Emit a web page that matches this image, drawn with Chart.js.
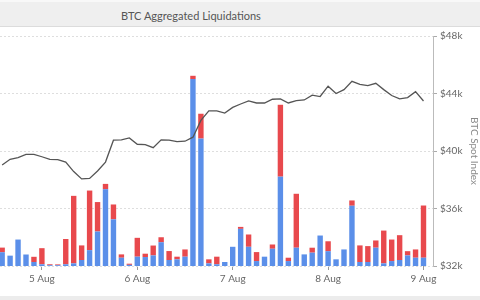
<!DOCTYPE html>
<html>
<head>
<meta charset="utf-8">
<script src="https://cdn.jsdelivr.net/npm/chart.js@4.4.0/dist/chart.umd.min.js"></script>
<style>
  html, body { margin: 0; padding: 0; background: #fff; }
  body { width: 480px; height: 300px; overflow: hidden; position: relative; font-family: Lato, sans-serif; }
  #titleBar { position: absolute; left: 0; top: 0; width: 480px; height: 27px; background: #efefef;
              border-top: 2px solid #f8f8f8; border-bottom: 1px solid #dcdcdc; box-sizing: border-box; }
  #titleBar span { position: absolute; left: 121px; top: 7px; font-size: 11px; color: #555; }
  #wrap { position: absolute; left: 0; top: 27px; width: 480px; height: 269px; }
  #foot { position: absolute; left: 0; top: 296px; width: 480px; height: 4px; background: #ececec; }
</style>
</head>
<body>
<div id="titleBar"><span>BTC Aggregated Liquidations</span></div>
<div id="wrap"><canvas id="liqChart" width="480" height="269"></canvas></div>
<div id="foot"></div>
<script>
// hours from 5 Aug 00:00, one bar every 2 hours
const hours = [-10, -8, -6, -4, -2, 0, 2, 4, 6, 8, 10, 12, 14, 16, 18, 20, 22, 24,
  26, 28, 30, 32, 34, 36, 38, 40, 42, 44, 46, 48, 50, 52, 54, 56, 58, 60,
  62, 64, 66, 68, 70, 72, 74, 76, 78, 80, 82, 84, 86, 88, 90, 92, 94, 96];

// liquidations ($M) - blue part (bottom) and red part (top)
const blueLiq = [12, 9, 23, 10, 3.5, 1.5, 0.7, 0.7, 1.5, 2.3, 5.2, 13.8, 30, 66.8, 40.6, 7.2, 1, 8.1,
  7.8, 9.2, 20.7, 5.2, 5.8, 8.1, 162.6, 110.8, 2.3, 1.5, 3.5, 16.7, 32.3, 16.7, 4.3, 8.1, 15, 77.7,
  4.3, 15.9, 10.1, 11.6, 26.5, 12.9, 5.8, 14.4, 52.4, 3.5, 3.5, 15.9, 2.3, 4.3, 5.2, 9.2, 7.2, 7.2];
const redLiq = [4, 0, 0, 0, 4.5, 14, 0.8, 0.7, 22, 58.7, 12.7, 51.8, 25.6, 4.6, 12.9, 2.9, 1, 16.4,
  2.9, 8.6, 4.3, 7.8, 2.3, 6.3, 2.8, 21.6, 3.5, 6.6, 0, 0, 1.7, 10.7, 7.8, 0, 3.7, 62.5,
  2.9, 46.9, 0, 4.3, 0, 8.6, 0, 0, 4.6, 14.4, 13.8, 6.3, 28.5, 18.7, 21.6, 3.7, 7.2, 45.4];

// BTC spot index ($k)
const spotPrice = [39.02, 39.42, 39.54, 39.76, 39.76, 39.60, 39.42, 39.40, 39.23, 38.57, 38.06, 38.09,
  38.61, 39.23, 40.75, 40.77, 40.91, 40.47, 40.45, 40.23, 40.78, 40.76, 40.65, 40.68, 40.96, 42.13,
  42.79, 42.79, 42.64, 43.03, 43.27, 43.48, 43.34, 43.34, 43.60, 43.63, 43.34, 43.51, 43.55, 43.89,
  43.79, 44.51, 44.00, 44.27, 44.85, 44.63, 44.55, 44.71, 44.27, 43.86, 43.63, 43.72, 44.13, 43.48];

const dayTicks = [0, 24, 48, 72, 96];
const dayLabels = ['5 Aug', '6 Aug', '7 Aug', '8 Aug', '9 Aug'];
const spotTicks = [32, 36, 40, 44, 48];

const pts = arr => hours.map((h, i) => ({ x: h, y: arr[i] }));
const tickFont = { family: 'Lato', size: 10 };

const ctx = document.getElementById('liqChart').getContext('2d');
const liqChart = new Chart(ctx, {
  type: 'bar',
  data: {
    datasets: [
      {
        type: 'line',
        label: 'BTC Spot Index',
        data: pts(spotPrice),
        yAxisID: 'y2',
        borderColor: '#555',
        borderWidth: 1.3,
        pointRadius: 0,
        tension: 0,
        order: 0
      },
      {
        label: 'Blue',
        data: pts(blueLiq),
        backgroundColor: '#5b8fe9',
        yAxisID: 'y',
        barPercentage: 0.68,
        categoryPercentage: 1,
        order: 1
      },
      {
        label: 'Red',
        data: pts(redLiq),
        backgroundColor: '#e8494d',
        yAxisID: 'y',
        barPercentage: 0.68,
        categoryPercentage: 1,
        order: 1
      }
    ]
  },
  options: {
    responsive: false,
    animation: false,
    layout: { padding: { top: 2, left: 0, right: 0, bottom: 0 } },
    plugins: { legend: { display: false }, tooltip: { enabled: false } },
    scales: {
      x: {
        type: 'linear',
        min: -10.54,
        max: 98.39,
        stacked: true,
        offset: false,
        afterBuildTicks: s => { s.ticks = dayTicks.map(v => ({ value: v })); },
        afterFit: s => { s.height = 30; },
        ticks: {
          autoSkip: false,
          maxRotation: 0,
          color: '#666',
          font: tickFont,
          padding: 3,
          callback: v => dayLabels[dayTicks.indexOf(v)]
        },
        grid: { drawOnChartArea: false, offset: false, tickLength: 4, tickColor: '#999' },
        border: { display: false }
      },
      y: {
        display: false,
        stacked: true,
        min: 0,
        max: 200
      },
      y2: {
        position: 'right',
        min: 32,
        max: 48,
        afterBuildTicks: s => { s.ticks = spotTicks.map(v => ({ value: v })); },
        afterFit: s => { s.width = 47; },
        ticks: {
          color: '#666',
          font: tickFont,
          padding: 3,
          callback: v => '$' + v + 'k'
        },
        grid: { color: '#dedede', tickColor: '#aaa', tickLength: 4 },
        border: { display: true, color: '#bbb', dash: [2, 2] },
        title: {
          display: true,
          text: 'BTC Spot Index',
          color: '#888',
          font: { family: 'Lato', size: 10 },
          padding: { top: 0, bottom: 4 }
        }
      }
    }
  }
});
</script>
</body>
</html>
